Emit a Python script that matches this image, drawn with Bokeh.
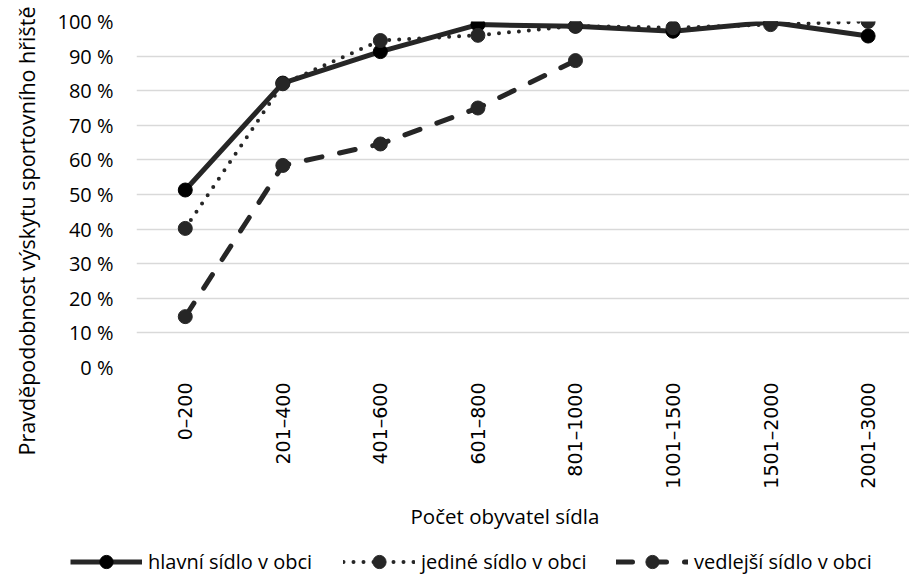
import math
from bokeh.plotting import figure
from bokeh.models import Range1d, FixedTicker, Legend, LegendItem, Title
from bokeh.embed import file_html
from bokeh.resources import INLINE

categories = ["0–200", "201–400", "401–600", "601–800", "801–1000",
              "1001–1500", "1501–2000", "2001–3000"]
hlavni = [0.513, 0.822, 0.913, 0.991, 0.986, 0.972, 0.998, 0.958]
jedine = [0.402, 0.820, 0.945, 0.960, 0.987, 0.982, 0.991, 1.000]
vedlejsi = [0.147, 0.584, 0.646, 0.750, 0.887]
y_ticks = [0.0, 0.1, 0.2, 0.3, 0.4, 0.5, 0.6, 0.7, 0.8, 0.9, 1.0]
y_tick_labels = ["0 %", "10 %", "20 %", "30 %", "40 %", "50 %",
                 "60 %", "70 %", "80 %", "90 %", "100 %"]
x_title = "Počet obyvatel sídla"
y_title = "Pravděpodobnost výskytu  sportovního hřiště"
series_names = ["hlavní sídlo v obci", "jediné sídlo v obci", "vedlejší sídlo v obci"]

FONT = "Open Sans"
DARK = "#262626"

p = figure(frame_width=776, frame_height=346, output_backend="svg",
           toolbar_location=None,
           x_range=Range1d(-0.5, 7.455), y_range=Range1d(0, 1),
           min_border_left=133, min_border_top=21, min_border_right=0,
           min_border_bottom=0)
p.outline_line_color = None
p.background_fill_color = "white"
p.border_fill_color = "white"

xs = list(range(len(categories)))

# axes
p.xaxis.ticker = FixedTicker(ticks=xs)
p.xaxis.major_label_overrides = {i: c for i, c in enumerate(categories)}
p.xaxis.major_label_orientation = math.pi / 2
p.xaxis.major_label_text_font = "DejaVu Sans"
p.xaxis.major_label_text_font_size = "19px"
p.xaxis.major_label_text_color = "black"
p.xaxis.major_label_standoff = 15

p.yaxis.ticker = FixedTicker(ticks=y_ticks)
p.yaxis.major_label_overrides = {t: l for t, l in zip(y_ticks, y_tick_labels)}
p.yaxis.major_label_text_font = FONT
p.yaxis.major_label_text_font_size = "20px"
p.yaxis.major_label_text_color = "black"
p.yaxis.major_label_standoff = 23

for ax in (p.xaxis, p.yaxis):
    ax.axis_line_color = None
    ax.major_tick_line_color = None
    ax.minor_tick_line_color = None
    ax.major_tick_out = 0
    ax.major_tick_in = 0
    ax.minor_tick_out = 0

ytitle = Title(text=y_title, align="left", offset=-88, vertical_align="top",
               standoff=23, text_font=FONT, text_font_size="21.5px",
               text_font_style="normal", text_color="black")
p.add_layout(ytitle, "left")

xtitle = Title(text=x_title, align="left", offset=274, vertical_align="middle",
               standoff=19, text_font=FONT, text_font_size="20.5px",
               text_font_style="normal", text_color="black")
p.add_layout(xtitle, "below")

p.xgrid.grid_line_color = None
p.ygrid.grid_line_color = "#d9d9d9"
p.ygrid.grid_line_width = 1.4

line_styles = [dict(line_width=5, line_dash="solid", line_cap="butt"),
               dict(line_width=4, line_dash="0 10", line_cap="round"),
               dict(line_width=5, line_dash="16 18", line_cap="round")]
marker_colors = ["black", DARK, DARK]
series = [hlavni, jedine, vedlejsi]

for vals, ls, mc in zip(series, line_styles, marker_colors):
    sx = xs[:len(vals)]
    p.line(sx, vals, line_color=DARK, line_join="round", **ls)
    p.scatter(sx, vals, size=14, fill_color=mc, line_color=mc)

# legend row: a separate root holding only legend samples (no data shown)
p2 = figure(width=909, height=42, output_backend="svg",
            toolbar_location=None, x_axis_type=None, y_axis_type=None,
            x_range=Range1d(0, 1), y_range=Range1d(0, 1), min_border=0)
p2.outline_line_color = None
p2.background_fill_color = "white"
p2.border_fill_color = "white"

nan = float("nan")
items = []
for name, ls, mc in zip(series_names, line_styles, marker_colors):
    lr = p2.line(x=[nan], y=[nan], line_color=DARK, line_join="round", **ls)
    mr = p2.scatter(x=[nan], y=[nan], fill_color=mc, line_color=mc)
    items.append(LegendItem(label=name, renderers=[lr, mr]))

legend = Legend(items=items, orientation="horizontal", location=(70, 4))
legend.label_text_font = FONT
legend.label_text_font_size = "20px"
legend.label_text_color = "black"
legend.glyph_width = 72
legend.glyph_height = 33
legend.label_height = 33
legend.label_width = 195
legend.label_standoff = 6
legend.spacing = 0
legend.padding = 0
legend.margin = 0
legend.border_line_color = None
legend.background_fill_alpha = 0
p2.add_layout(legend)

open("out.html", "w").write(file_html([p, p2], INLINE))
